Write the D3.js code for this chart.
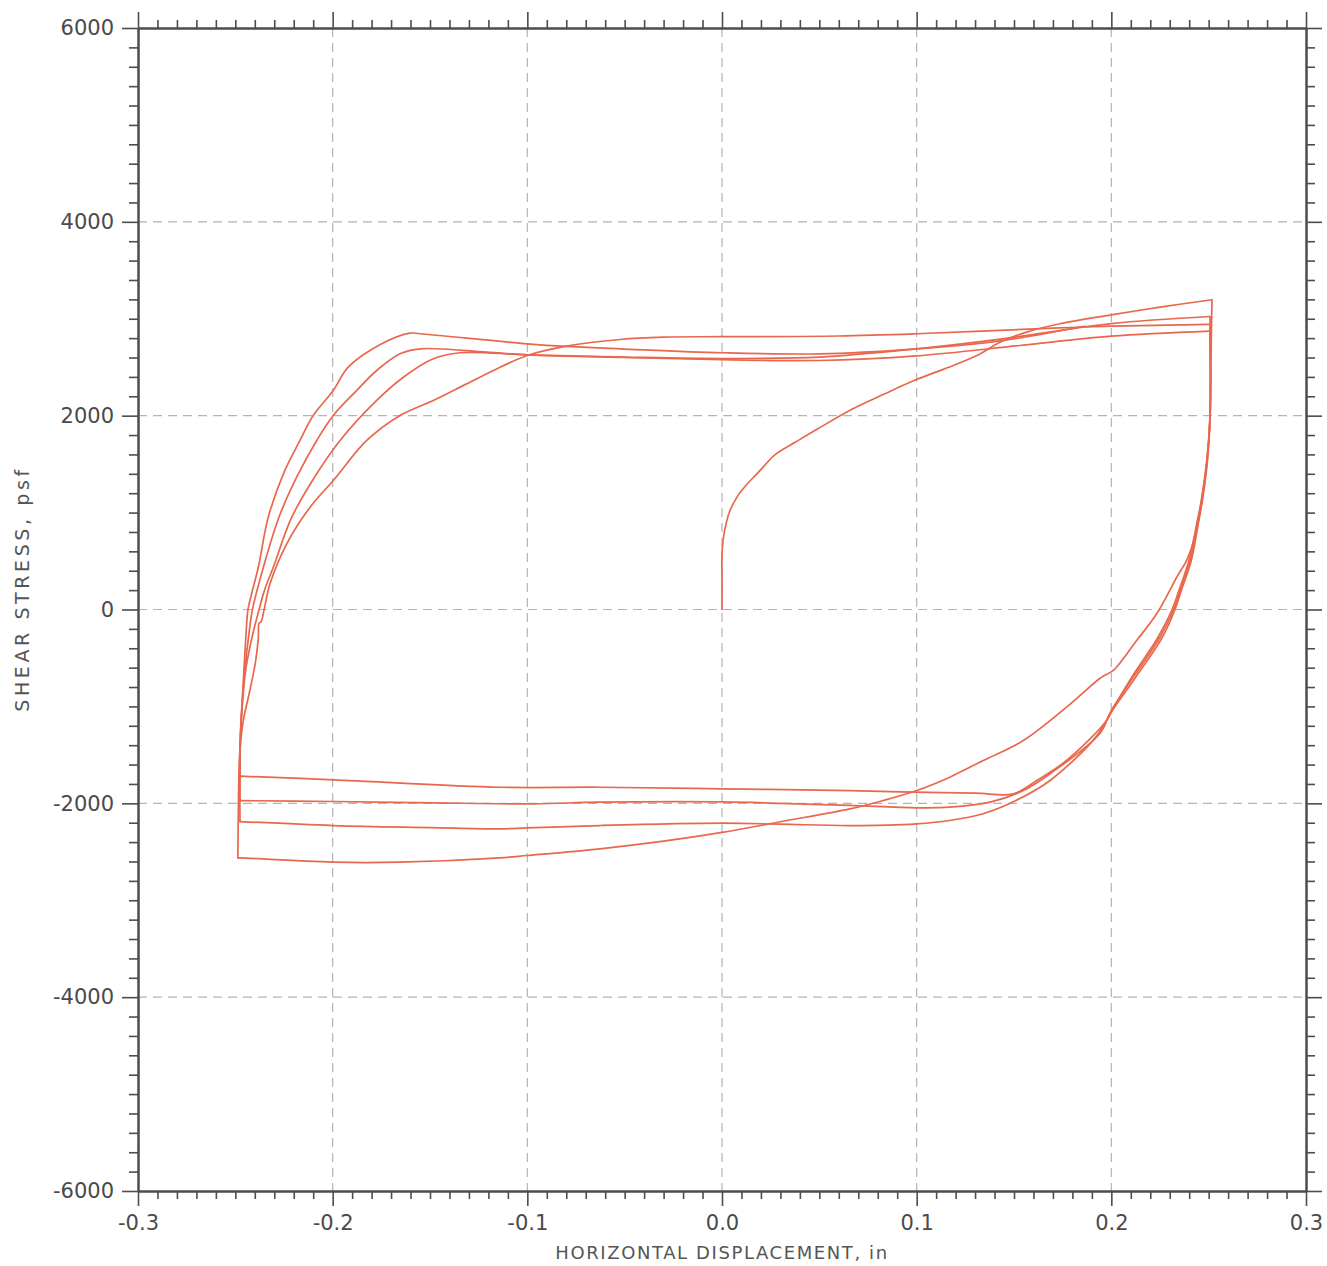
<!DOCTYPE html>
<html><head><meta charset="utf-8">
<script src="https://cdn.jsdelivr.net/npm/d3@7"></script>
<style>body{margin:0;background:#fff}svg{display:block}</style>
</head><body>
<svg id="chart" width="1327" height="1266"></svg>
<script>
// ---------- tick values / labels ----------
const xMajorTicks = [-0.3, -0.2, -0.1, 0, 0.1, 0.2, 0.3];
const xTickLabels = ["-0.3", "-0.2", "-0.1", "0.0", "0.1", "0.2", "0.3"];
const yMajorTicks = [-6000, -4000, -2000, 0, 2000, 4000, 6000];
const yTickLabels = ["-6000", "-4000", "-2000", "0", "2000", "4000", "6000"];
const xGridValues = [-0.2, -0.1, 0, 0.1, 0.2];
const yGridValues = [-4000, -2000, 0, 2000, 4000];
const xLabel = "HORIZONTAL DISPLACEMENT, in";
const yLabel = "SHEAR STRESS, psf";

// ---------- data: [displacement (in), shear stress (psf)] ----------
const initialLoading = [[0,0],[0,300],[0,569],[0.001,776],[0.004,1017],[0.008,1170],[0.0128,1293],[0.0178,1396],[0.0276,1603],[0.038,1730],[0.049,1862],[0.067,2069],[0.083,2220],[0.0987,2362],[0.1188,2518],[0.131,2621],[0.1428,2758],[0.1565,2862],[0.1736,2948],[0.2,3040],[0.225,3120],[0.2517,3196]];

const unload1 = [[0.2517,3196],[0.2512,2600],[0.2508,2000],[0.2495,1600],[0.2470,1200],[0.2435,800],[0.2390,520],[0.2336,333],[0.2233,-44],[0.213,-320],[0.201,-629],[0.1965,-680],[0.1935,-720],[0.177,-1008],[0.1548,-1352],[0.1342,-1558],[0.117,-1730],[0.1,-1868],[0.0829,-1971],[0.0658,-2057],[0.03,-2190],[0,-2300],[-0.03,-2390],[-0.0627,-2469],[-0.1,-2538],[-0.114,-2562],[-0.1654,-2607],[-0.1997,-2607],[-0.2476,-2562],[-0.2487,-2562]];

const reload1 = [[-0.2487,-2562],[-0.2484,-2000],[-0.2478,-1500],[-0.2459,-1145],[-0.2433,-905],[-0.2398,-560],[-0.2382,-300],[-0.2378,-140],[-0.2368,-128],[-0.2352,0],[-0.2322,265],[-0.2236,678],[-0.2116,1056],[-0.1997,1331],[-0.1825,1744],[-0.1654,2002],[-0.1483,2157],[-0.1312,2328],[-0.114,2500],[-0.1,2621],[-0.0798,2717],[-0.0524,2786],[-0.03,2810],[0,2815],[0.06,2822],[0.1,2845],[0.17,2903],[0.2,2923],[0.2507,2941]];

const unload2 = [[0.2507,2941],[0.2507,2000],[0.2494,1537],[0.2468,1125],[0.2448,900],[0.2410,500],[0.2360,200],[0.2325,-10],[0.2262,-286],[0.2125,-698],[0.2005,-1042],[0.192,-1317],[0.1685,-1764],[0.151,-1971],[0.134,-2108],[0.117,-2177],[0.1,-2211],[0.0658,-2229],[0.03,-2215],[0,-2205],[-0.0627,-2229],[-0.1,-2253],[-0.114,-2263],[-0.15,-2250],[-0.1997,-2229],[-0.2476,-2188]];

const reload2 = [[-0.2476,-2188],[-0.2476,-1500],[-0.2465,-1000],[-0.2445,-600],[-0.2410,-250],[-0.2378,0],[-0.2350,200],[-0.2305,436],[-0.2210,952],[-0.2082,1400],[-0.1962,1744],[-0.1774,2157],[-0.1637,2397],[-0.1483,2587],[-0.1346,2649],[-0.1,2628],[-0.05,2605],[0,2590],[0.05,2604],[0.1,2690],[0.143,2790],[0.2,2950],[0.2507,3023]];

const unload3 = [[0.2507,3023],[0.2507,2000],[0.2492,1537],[0.2465,1125],[0.2445,900],[0.2405,500],[0.2355,200],[0.2318,-10],[0.2250,-286],[0.2113,-698],[0.2000,-1042],[0.194,-1282],[0.1685,-1695],[0.1548,-1868],[0.1377,-1988],[0.117,-2040],[0.1,-2046],[0.0658,-2022],[0.03,-2000],[0,-1985],[-0.063,-1988],[-0.097,-2005],[-0.148,-1995],[-0.1997,-1981],[-0.2476,-1972]];

const reload3 = [[-0.2476,-1972],[-0.2475,-1400],[-0.2466,-1000],[-0.2450,-600],[-0.2430,-250],[-0.2412,0],[-0.2356,436],[-0.2276,952],[-0.2185,1365],[-0.2082,1744],[-0.1997,2002],[-0.1877,2259],[-0.1774,2466],[-0.1654,2638],[-0.1551,2690],[-0.121,2655],[-0.1,2628],[-0.05,2600],[0,2578],[0.05,2569],[0.1,2617],[0.153,2724],[0.2,2820],[0.2507,2872]];

const unload4 = [[0.2507,2872],[0.2507,2000],[0.2490,1537],[0.2462,1125],[0.2440,900],[0.2398,500],[0.2348,200],[0.2310,-10],[0.2240,-286],[0.2105,-698],[0.2015,-1000],[0.1976,-1145],[0.177,-1558],[0.1617,-1764],[0.1497,-1902],[0.13,-1895],[0.1,-1885],[0.0658,-1868],[0,-1850],[-0.0627,-1834],[-0.114,-1834],[-0.1997,-1757],[-0.2476,-1720]];

const reload4 = [[-0.2476,-1720],[-0.2474,-1300],[-0.2466,-1000],[-0.2455,-600],[-0.2445,-250],[-0.2435,0],[-0.2418,150],[-0.2382,436],[-0.2331,952],[-0.2253,1400],[-0.2168,1744],[-0.210,2002],[-0.1997,2259],[-0.192,2500],[-0.1748,2741],[-0.1603,2851],[-0.155,2845],[-0.1,2741],[-0.08,2714],[-0.0524,2690],[0,2649],[0.05,2638],[0.1,2690],[0.143,2772],[0.186,2923]];

const branches = [initialLoading, unload1, reload1, unload2, reload2, unload3, reload3, unload4, reload4];

// ---------- layout ----------
const svg = d3.select("#chart");
const L = 138, R = 1306, T = 28, B = 1191;
const x = d3.scaleLinear().domain([-0.3, 0.3]).range([L, R]);
const y = d3.scaleLinear().domain([-6000, 6000]).range([B, T]);

const axisColor = "#4d4d4d";
const gridColor = "#b4b4b4";
const lineColor = "#e9674c";
const font = "'DejaVu Sans', Verdana, sans-serif";

// grid
svg.append("g").selectAll("line").data(xGridValues).join("line")
  .attr("x1", d => x(d)).attr("x2", d => x(d)).attr("y1", T).attr("y2", B)
  .attr("stroke", gridColor).attr("stroke-width", 1.2).attr("stroke-dasharray", "9,6");
svg.append("g").selectAll("line").data(yGridValues).join("line")
  .attr("x1", L).attr("x2", R).attr("y1", d => y(d)).attr("y2", d => y(d))
  .attr("stroke", gridColor).attr("stroke-width", 1.2).attr("stroke-dasharray", "9,6");

// minor tick positions
const xMinor = d3.range(-30, 31).map(i => i / 100).filter(v => Math.abs(Math.round(v * 100) % 10) !== 0);
const yMinor = d3.range(-30, 31).map(i => i * 200).filter(v => v % 2000 !== 0);

function styleAxis(g) {
  g.selectAll("path.domain").attr("stroke", axisColor).attr("stroke-width", 2);
  g.selectAll(".tick line").attr("stroke", axisColor).attr("stroke-width", 1.6);
  g.selectAll("text").attr("fill", "#4a4a4a").style("font-family", font).style("font-size", "21px");
}

const xFmt = d => xTickLabels[xMajorTicks.findIndex(v => Math.abs(v - d) < 1e-9)];
const yFmt = d => yTickLabels[yMajorTicks.indexOf(d)];

// bottom
svg.append("g").attr("transform", `translate(0,${B})`)
  .call(d3.axisBottom(x).tickValues(xMajorTicks).tickFormat(xFmt).tickSize(15).tickPadding(9).tickSizeOuter(0))
  .call(styleAxis);
svg.append("g").attr("transform", `translate(0,${B})`)
  .call(d3.axisBottom(x).tickValues(xMinor).tickFormat("").tickSize(8).tickSizeOuter(0))
  .call(styleAxis);
// top
svg.append("g").attr("transform", `translate(0,${T})`)
  .call(d3.axisTop(x).tickValues(xMajorTicks).tickFormat("").tickSize(16).tickSizeOuter(0))
  .call(styleAxis);
svg.append("g").attr("transform", `translate(0,${T})`)
  .call(d3.axisTop(x).tickValues(xMinor).tickFormat("").tickSize(8).tickSizeOuter(0))
  .call(styleAxis);
// left
svg.append("g").attr("transform", `translate(${L},0)`)
  .call(d3.axisLeft(y).tickValues(yMajorTicks).tickFormat(yFmt).tickSize(16).tickPadding(8).tickSizeOuter(0))
  .call(styleAxis);
svg.append("g").attr("transform", `translate(${L},0)`)
  .call(d3.axisLeft(y).tickValues(yMinor).tickFormat("").tickSize(9).tickSizeOuter(0))
  .call(styleAxis);
// right
svg.append("g").attr("transform", `translate(${R},0)`)
  .call(d3.axisRight(y).tickValues(yMajorTicks).tickFormat("").tickSize(16).tickSizeOuter(0))
  .call(styleAxis);
svg.append("g").attr("transform", `translate(${R},0)`)
  .call(d3.axisRight(y).tickValues(yMinor).tickFormat("").tickSize(9).tickSizeOuter(0))
  .call(styleAxis);

// data lines
const line = d3.line().x(d => x(d[0])).y(d => y(d[1])).curve(d3.curveCatmullRom.alpha(0.5));
svg.append("g").selectAll("path").data(branches).join("path")
  .attr("d", line).attr("fill", "none").attr("stroke", lineColor)
  .attr("stroke-width", 1.7).attr("stroke-linejoin", "round").attr("stroke-linecap", "round");

// axis titles
svg.append("text").attr("x", (L + R) / 2).attr("y", 1259).attr("text-anchor", "middle")
  .attr("fill", "#555").style("font-family", font).style("font-size", "18px").style("letter-spacing", "1.6px")
  .text(xLabel);
svg.append("text").attr("transform", `translate(29,589) rotate(-90)`).attr("text-anchor", "middle")
  .attr("fill", "#555").style("font-family", font).style("font-size", "19px").style("letter-spacing", "3.6px")
  .text(yLabel);
</script>
</body></html>
